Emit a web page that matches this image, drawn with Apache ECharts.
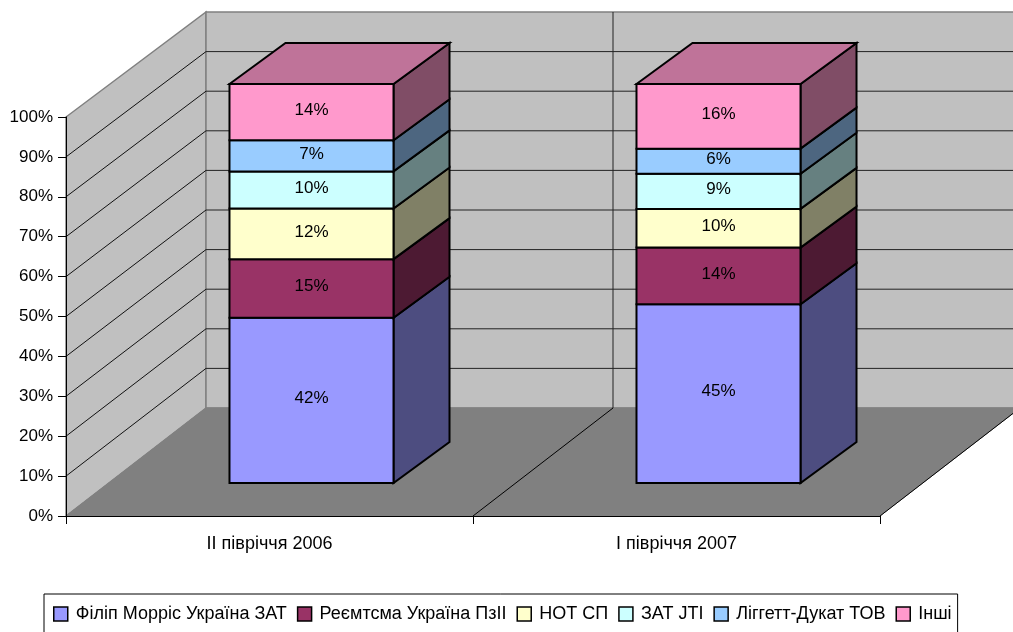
<!DOCTYPE html>
<html>
<head>
<meta charset="utf-8">
<style>
  html, body { margin: 0; padding: 0; background: #fff; overflow: hidden; }
  #chart { width: 1013px; height: 632px; }
</style>
<script src="https://cdn.jsdelivr.net/npm/echarts@6/dist/echarts.min.js"></script>
</head>
<body>
<div id="chart"></div>
<script>
var categories = ['II півріччя 2006', 'I півріччя 2007'];
var seriesNames = ['Філіп Морріс Україна ЗАТ', 'Реємтсма Україна ПзІІ', 'НОТ СП', 'ЗАТ JTI', 'Ліггетт-Дукат ТОВ', 'Інші'];
var filip = [41.4, 44.8];
var reemtsma = [14.7, 14.2];
var not = [12.7, 9.7];
var jti = [9.3, 8.8];
var liggett = [7.8, 6.3];
var other = [14.1, 16.2];
var filipLabels = ['42%', '45%'];
var reemtsmaLabels = ['15%', '14%'];
var notLabels = ['12%', '10%'];
var jtiLabels = ['10%', '9%'];
var liggettLabels = ['7%', '6%'];
var otherLabels = ['14%', '16%'];
var yTicks = [0, 10, 20, 30, 40, 50, 60, 70, 80, 90, 100];

var stacks = [filip, reemtsma, not, jti, liggett, other];
var stackLabels = [filipLabels, reemtsmaLabels, notLabels, jtiLabels, liggettLabels, otherLabels];
var colors = ['#9999FF', '#993366', '#FFFFCC', '#CCFFFF', '#99CCFF', '#FF99CC'];

var FONT = '"Liberation Sans", Arial, sans-serif';
// oblique projection, pixels
var WALL_DX = 140;
var BAR_OFF_X = 42, BAR_OFF_Y = -33;
var BAR_DX = 56, BAR_DY = -41;

function shade(hex, k) {
  var n = parseInt(hex.slice(1), 16);
  return 'rgb(' + Math.round((n >> 16) * k) + ',' + Math.round(((n >> 8) & 255) * k) + ',' + Math.round((n & 255) * k) + ')';
}

function backPoint(p, v) {
  // back wall is a touch shorter than the front plane
  return [p[0] + WALL_DX, p[1] - 108 + 3 * v / 100];
}

function poly(points, fill, stroke, width) {
  return {
    type: 'polygon',
    shape: { points: points },
    style: { fill: fill, stroke: stroke || null, lineWidth: width || 0, lineJoin: 'miter' }
  };
}

function line(a, b, stroke, width) {
  return {
    type: 'line',
    shape: { x1: a[0], y1: a[1], x2: b[0], y2: b[1] },
    style: { stroke: stroke, lineWidth: width, fill: null }
  };
}

// walls, floor and grid lines
function renderWall(params, api) {
  var v = api.value(0);
  var children = [];
  if (params.dataIndex === 0) {
    var band = api.size([1, 0])[0];
    var c0 = api.coord([0, 0]);
    var c1 = api.coord([1, 0]);
    var top0 = api.coord([0, 100]);
    var a = [c0[0] - band / 2, c0[1]];
    var b = [c1[0] + band / 2, c1[1]];
    var m = [c0[0] + band / 2, c0[1]];
    var aTop = [a[0], top0[1]];
    var bTop = [b[0], top0[1]];
    var mTop = [m[0], top0[1]];
    children.push(poly([a, aTop, backPoint(aTop, 100), backPoint(a, 0)], '#C0C0C0', '#808080', 1.5));
    children.push(poly([backPoint(a, 0), backPoint(aTop, 100), backPoint(bTop, 100), backPoint(b, 0)], '#C0C0C0', '#808080', 1.5));
    children.push(poly([a, backPoint(a, 0), backPoint(b, 0), b], '#808080', '#808080', 1));
    children.push(line(backPoint(m, 0), backPoint(mTop, 100), '#222', 1));
    children.push(line(m, backPoint(m, 0), '#000', 1));
    children.push(line(b, backPoint(b, 0), '#000', 1));
  } else if (v < 100) {
    var bandW = api.size([1, 0])[0];
    var p = api.coord([0, v]);
    var last = api.coord([1, v]);
    var start = [p[0] - bandW / 2, p[1]];
    var end = [last[0] + bandW / 2, p[1]];
    children.push(line(start, backPoint(start, v), '#111', 1));
    children.push(line(backPoint(start, v), backPoint(end, v), '#222', 1));
  }
  return { type: 'group', children: children };
}

// one stacked segment of a 3D bar: front, side, and the lid on the last one
function makeRenderBar(s) {
  return function (params, api) {
    var i = api.value(0);
    var base = 0;
    for (var k = 0; k < s; k++) base += stacks[k][i];
    var topValue = base + api.value(1);
    var w = api.size([1, 0])[0] * 0.403;
    var bottom = api.coord([i, base]);
    var top = api.coord([i, topValue]);
    var x0 = bottom[0] + BAR_OFF_X - w / 2;
    var x1 = x0 + w;
    var y0 = bottom[1] + BAR_OFF_Y;
    var y1 = top[1] + BAR_OFF_Y;
    var stroke = '#000';
    var children = [
      poly([[x1, y0], [x1, y1], [x1 + BAR_DX, y1 + BAR_DY], [x1 + BAR_DX, y0 + BAR_DY]], shade(colors[s], 0.5), stroke, 2),
      poly([[x0, y0], [x0, y1], [x1, y1], [x1, y0]], colors[s], stroke, 2)
    ];
    if (s === stacks.length - 1) {
      children.push(poly([[x0, y1], [x0 + BAR_DX, y1 + BAR_DY], [x1 + BAR_DX, y1 + BAR_DY], [x1, y1]], shade(colors[s], 0.75), stroke, 2));
    }
    children.push({
      type: 'text',
      style: {
        text: stackLabels[s][i],
        x: (x0 + x1) / 2,
        y: (y0 + y1) / 2 - 2,
        align: 'center',
        verticalAlign: 'middle',
        font: '17px ' + FONT,
        fill: '#000'
      }
    });
    return { type: 'group', children: children };
  };
}

var series = [{
  type: 'custom',
  name: 'walls',
  silent: true,
  z: 1,
  renderItem: renderWall,
  encode: { y: 0 },
  data: yTicks.map(function (t) { return [t]; })
}];

stacks.forEach(function (values, s) {
  series.push({
    type: 'custom',
    name: seriesNames[s],
    silent: true,
    z: 2 + s,
    itemStyle: { color: colors[s] },
    renderItem: makeRenderBar(s),
    encode: { x: 0, y: 1 },
    data: values.map(function (v, i) { return [i, v]; })
  });
});

var chart = echarts.init(document.getElementById('chart'), null, { renderer: 'canvas' });
chart.setOption({
  animation: false,
  backgroundColor: '#fff',
  grid: { left: 66, top: 117, width: 814, height: 399, containLabel: false },
  xAxis: {
    type: 'category',
    data: categories,
    z: 20,
    axisLine: { lineStyle: { color: '#000', width: 1 } },
    axisTick: { show: true, length: 8, lineStyle: { color: '#000', width: 1 } },
    axisLabel: { color: '#000', fontFamily: FONT, fontSize: 18, margin: 19 },
    splitLine: { show: false }
  },
  yAxis: {
    type: 'value',
    min: 0,
    max: 100,
    interval: 10,
    z: 20,
    axisLine: { show: true, lineStyle: { color: '#000', width: 1 } },
    axisTick: { show: true, length: 8, lineStyle: { color: '#000', width: 1 } },
    axisLabel: { color: '#000', fontFamily: FONT, fontSize: 17, margin: 13, formatter: '{value}%' },
    splitLine: { show: false }
  },
  legend: {
    data: seriesNames,
    left: 44,
    top: 594,
    padding: [11, 6, 10, 9],
    itemWidth: 14,
    itemHeight: 14,
    itemGap: 10,
    icon: 'rect',
    borderColor: '#000',
    borderWidth: 1,
    selectedMode: false,
    itemStyle: { borderColor: '#000', borderWidth: 1.5 },
    textStyle: { color: '#000', fontFamily: FONT, fontSize: 18, padding: [0, 0, 0, 3] }
  },
  series: series
});
</script>
</body>
</html>
